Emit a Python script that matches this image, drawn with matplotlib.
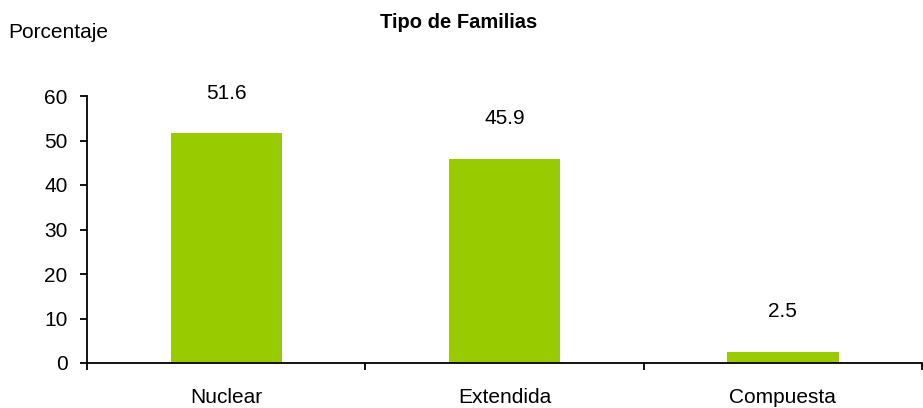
import matplotlib.pyplot as plt

categorias = ["Nuclear", "Extendida", "Compuesta"]
porcentajes = [51.6, 45.9, 2.5]
etiquetas = ["51.6", "45.9", "2.5"]

plt.rcParams['font.family'] = ['Liberation Sans', 'DejaVu Sans']

fig = plt.figure(figsize=(9.23, 4.08), dpi=100)
ax = fig.add_axes([87 / 923, 1 - 363 / 408, 835 / 923, 267 / 408])

x = range(len(categorias))
ax.bar(x, porcentajes, width=0.4, color="#99CC00")

for i, (v, t) in enumerate(zip(porcentajes, etiquetas)):
    ax.annotate(t, (i, v), xytext=(0, 29), textcoords="offset points",
                ha="center", va="center", fontsize=15)

ax.set_xlim(-0.5, 2.5)
ax.set_ylim(0, 60)
ax.set_yticks([0, 10, 20, 30, 40, 50, 60])
ax.set_xticks([-0.5, 0.5, 1.5, 2.5])
ax.set_xticklabels([])
ax.set_xticks([0, 1, 2], minor=True)
ax.set_xticklabels(categorias, minor=True)
ax.tick_params(axis="x", which="major", length=5, width=1.3, direction="out")
ax.tick_params(axis="x", which="minor", length=0, pad=18, labelsize=15)
ax.tick_params(axis="y", length=5, width=1.3, direction="out", pad=9, labelsize=15)

for s in ["top", "right"]:
    ax.spines[s].set_visible(False)
ax.spines["left"].set_linewidth(1.3)
ax.spines["bottom"].set_linewidth(1.3)

fig.text(459 / 923, 1 - 22 / 408, "Tipo de Familias", ha="center", va="center",
         fontsize=14.5, fontweight="bold")
fig.text(8 / 923, 1 - 33 / 408, "Porcentaje", ha="left", va="center", fontsize=15)

fig.savefig("out.png", dpi=100)
